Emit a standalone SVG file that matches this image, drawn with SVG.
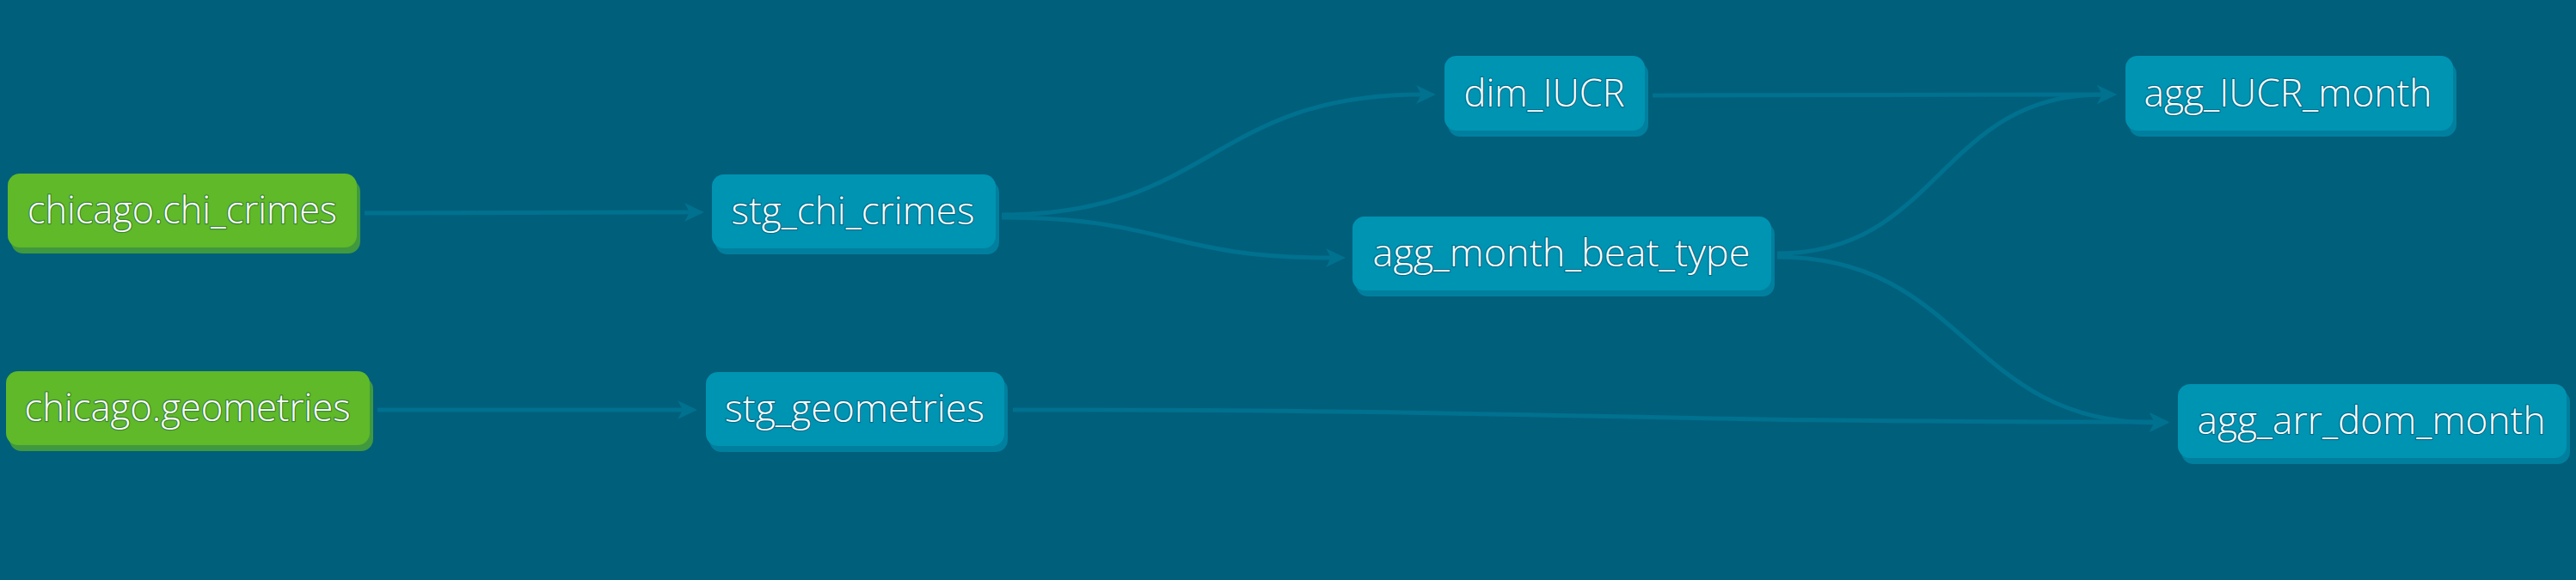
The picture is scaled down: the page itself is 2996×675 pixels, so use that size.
<svg xmlns="http://www.w3.org/2000/svg" width="2996" height="675" viewBox="0 0 2996 675">
<style>
.bg{fill:#005f7b}
.edge{fill:none;stroke:#00718f;stroke-width:5}
.src .main{fill:#5fb928}
.src .shadow{fill:#40993f}
.mdl .main{fill:#0094b3}
.mdl .shadow{fill:#00809e}
.lbl{font-family:"Open Sans","Noto Sans",sans-serif;font-weight:300;font-size:44px;fill:#ffffff;text-anchor:middle;stroke:#00324a;stroke-opacity:0.4;stroke-width:2.5;paint-order:stroke;stroke-linejoin:round}
</style>
<defs>
<marker id="arr" markerUnits="userSpaceOnUse" markerWidth="30" markerHeight="30" refX="6" refY="11" orient="auto">
<path d="M0,0 L23,11 L0,22 L6,11 Z" fill="#00718f"/>
</marker>
</defs>
<rect class="bg" x="0" y="0" width="2996" height="675"/>
<g id="edges">
<path class="edge" marker-end="url(#arr)" d="M424,248 C613,248 613,247 802,247"/>
<path class="edge" marker-end="url(#arr)" d="M439,477 C617,477 617,477 794,477"/>
<path class="edge" marker-end="url(#arr)" d="M1165,250 C1409,250 1409,110 1653,110"/>
<path class="edge" marker-end="url(#arr)" d="M1165,253 C1357,253 1357,300 1548,300"/>
<path class="edge" marker-end="url(#arr)" d="M1922,111 C2184,111 2184,110 2445,110"/>
<path class="edge" marker-end="url(#arr)" d="M2067,295 C2256,295 2256,110 2445,110"/>
<path class="edge" marker-end="url(#arr)" d="M2067,299 C2287,299 2287,492 2506,492"/>
<path class="edge" marker-end="url(#arr)" d="M1178,477 C1842,477 1842,491 2506,491"/>
</g>
<g id="chicago.chi_crimes" class="src">
<rect class="shadow" x="13" y="209" width="406" height="86" rx="14"/>
<rect class="main" x="9" y="202" width="406" height="86" rx="14"/>
<text class="lbl" x="212" y="260" textLength="360" lengthAdjust="spacingAndGlyphs">chicago.chi_crimes</text>
</g>
<g id="chicago.geometries" class="src">
<rect class="shadow" x="11" y="439" width="423" height="86" rx="14"/>
<rect class="main" x="7" y="432" width="423" height="86" rx="14"/>
<text class="lbl" x="218" y="490" textLength="379" lengthAdjust="spacingAndGlyphs">chicago.geometries</text>
</g>
<g id="stg_chi_crimes" class="mdl">
<rect class="shadow" x="832" y="210" width="330" height="86" rx="14"/>
<rect class="main" x="828" y="203" width="330" height="86" rx="14"/>
<text class="lbl" x="992" y="261" textLength="283" lengthAdjust="spacingAndGlyphs">stg_chi_crimes</text>
</g>
<g id="stg_geometries" class="mdl">
<rect class="shadow" x="825" y="440" width="347" height="86" rx="14"/>
<rect class="main" x="821" y="433" width="347" height="86" rx="14"/>
<text class="lbl" x="994" y="491" textLength="302" lengthAdjust="spacingAndGlyphs">stg_geometries</text>
</g>
<g id="dim_IUCR" class="mdl">
<rect class="shadow" x="1684" y="72" width="233" height="87" rx="14"/>
<rect class="main" x="1680" y="65" width="233" height="87" rx="14"/>
<text class="lbl" x="1796" y="124" textLength="187" lengthAdjust="spacingAndGlyphs">dim_IUCR</text>
</g>
<g id="agg_month_beat_type" class="mdl">
<rect class="shadow" x="1577" y="259" width="487" height="86" rx="14"/>
<rect class="main" x="1573" y="252" width="487" height="86" rx="14"/>
<text class="lbl" x="1816" y="310" textLength="439" lengthAdjust="spacingAndGlyphs">agg_month_beat_type</text>
</g>
<g id="agg_IUCR_month" class="mdl">
<rect class="shadow" x="2476" y="72" width="381" height="87" rx="14"/>
<rect class="main" x="2472" y="65" width="381" height="87" rx="14"/>
<text class="lbl" x="2661" y="124" textLength="335" lengthAdjust="spacingAndGlyphs">agg_IUCR_month</text>
</g>
<g id="agg_arr_dom_month" class="mdl">
<rect class="shadow" x="2537" y="454" width="452" height="86" rx="14"/>
<rect class="main" x="2533" y="447" width="452" height="86" rx="14"/>
<text class="lbl" x="2758" y="505" textLength="405" lengthAdjust="spacingAndGlyphs">agg_arr_dom_month</text>
</g>
</svg>
